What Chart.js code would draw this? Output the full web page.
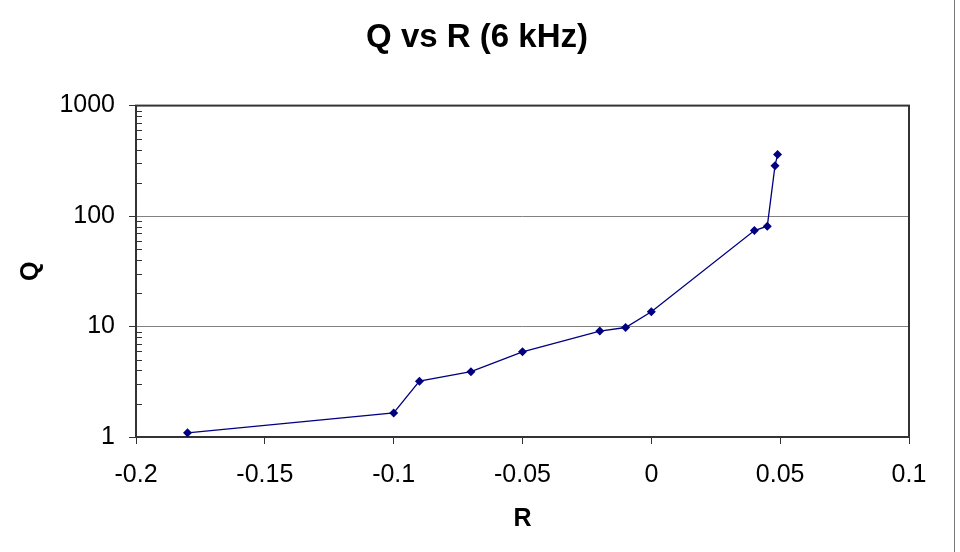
<!DOCTYPE html>
<html>
<head>
<meta charset="utf-8">
<script src="https://cdn.jsdelivr.net/npm/chart.js@4/dist/chart.umd.min.js"></script>
<style>
    body { margin: 0; background: #fff; }
    #wrap { width: 954px; height: 552px; border-right: 1px solid #7a7a7a; }
</style>
</head>
<body>
<div id="wrap"><canvas id="c" width="954" height="552"></canvas></div>
<script>
// Q vs R readings (6 kHz)
const rValues = [-0.18, -0.1, -0.09, -0.07, -0.05, -0.02, -0.01, 0, 0.04, 0.045, 0.048, 0.049];
const qValues = [1.09, 1.65, 3.2, 3.9, 5.9, 9.1, 9.8, 13.6, 74, 81, 286, 360];

const xTicks = [-0.2, -0.15, -0.1, -0.05, 0, 0.05, 0.1];
const yTicks = [1, 10, 100, 1000];

const fontFamily = '"Liberation Sans", Arial, sans-serif';

// plot frame + log minor ticks (inside), like the original
const frame = {
    id: 'frame',
    beforeDatasetsDraw(chart) {
        const { ctx, chartArea: a } = chart;
        const y = chart.scales.y;
        ctx.save();
        ctx.strokeStyle = '#333';
        ctx.lineWidth = 1;
        for (let i = 0; i < yTicks.length - 1; i++) {
            for (let m = 2; m <= 9; m++) {
                const py = Math.round(y.getPixelForValue(yTicks[i] * m)) + 0.5;
                ctx.beginPath();
                ctx.moveTo(a.left, py);
                ctx.lineTo(a.left + 6, py);
                ctx.stroke();
            }
        }
        ctx.lineWidth = 2;
        ctx.strokeRect(a.left, a.top, a.right - a.left, a.bottom - a.top);
        ctx.restore();
    }
};

new Chart(document.getElementById('c'), {
    type: 'scatter',
    data: {
        datasets: [{
            data: rValues.map((r, i) => ({ x: r, y: qValues[i] })),
            showLine: true,
            borderColor: '#000080',
            backgroundColor: '#000080',
            borderWidth: 1.3,
            tension: 0,
            pointStyle: 'rectRot',
            pointRadius: 4.5,
            pointBorderWidth: 0
        }]
    },
    options: {
        responsive: false,
        animation: false,
        devicePixelRatio: 1,
        layout: { padding: 0 },
        plugins: {
            legend: { display: false },
            tooltip: { enabled: false },
            title: {
                display: true,
                text: 'Q vs R (6 kHz)',
                color: '#000',
                font: { family: fontFamily, size: 33, weight: 'bold', lineHeight: 1.2 },
                padding: { top: 18, bottom: 48 }
            }
        },
        scales: {
            x: {
                type: 'linear',
                min: -0.2,
                max: 0.1,
                afterBuildTicks: s => { s.ticks = xTicks.map(v => ({ value: v })); },
                afterFit: s => { s.height = 115; },
                border: { display: false },
                grid: { drawOnChartArea: false, drawTicks: true, tickLength: 7, tickColor: '#333' },
                ticks: {
                    color: '#000',
                    padding: 16,
                    maxRotation: 0,
                    font: { family: fontFamily, size: 25 },
                    callback: v => String(v)
                },
                title: {
                    display: true,
                    text: 'R',
                    color: '#000',
                    font: { family: fontFamily, size: 25, weight: 'bold', lineHeight: 1.2 },
                    padding: { top: 0, bottom: 18 }
                }
            },
            y: {
                type: 'logarithmic',
                min: 1,
                max: 1000,
                afterBuildTicks: s => { s.ticks = yTicks.map(v => ({ value: v })); },
                afterFit: s => { s.width = 136; },
                border: { display: false },
                grid: { color: '#808080', lineWidth: 1, tickLength: 7, tickColor: '#333' },
                ticks: {
                    color: '#000',
                    padding: 14,
                    font: { family: fontFamily, size: 25 },
                    callback: v => String(v)
                },
                title: {
                    display: true,
                    text: 'Q',
                    color: '#000',
                    font: { family: fontFamily, size: 25, weight: 'bold', lineHeight: 1.2 },
                    padding: { top: 16, bottom: 0 }
                }
            },
            // empty right-hand scale, only reserves the white margin right of the plot
            yRight: {
                type: 'linear',
                position: 'right',
                display: true,
                afterFit: s => { s.width = 45; },
                border: { display: false },
                grid: { display: false },
                ticks: { display: false }
            }
        }
    },
    plugins: [frame]
});
</script>
</body>
</html>
